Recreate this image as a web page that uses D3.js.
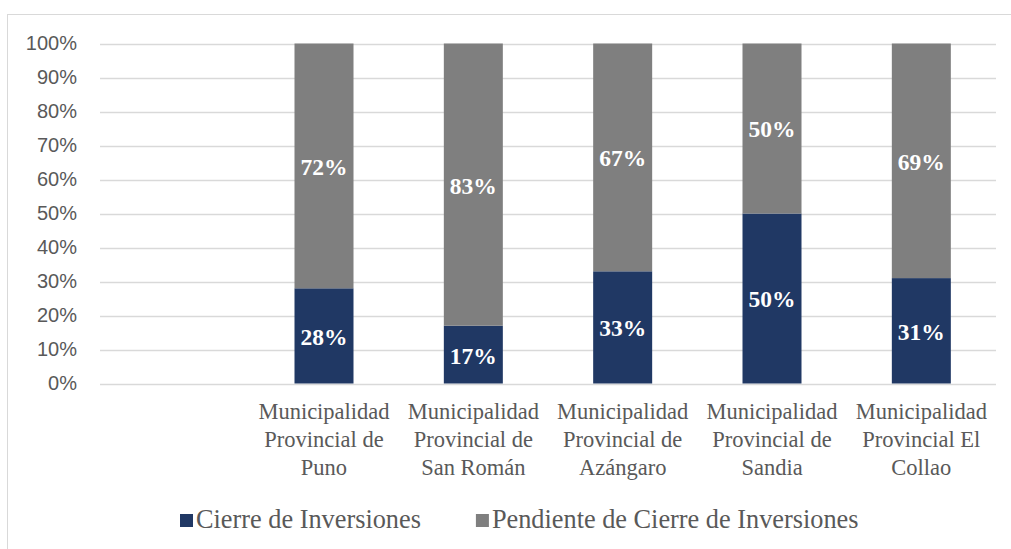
<!DOCTYPE html>
<html>
<head>
<meta charset="utf-8">
<script src="https://cdn.jsdelivr.net/npm/d3@7"></script>
<style>
  body { margin: 0; background: #fff; }
  svg { display: block; }
</style>
</head>
<body>
<script>
// chart values
var categories = ["", "Municipalidad Provincial de Puno", "Municipalidad Provincial de San Román",
  "Municipalidad Provincial de Azángaro", "Municipalidad Provincial de Sandia",
  "Municipalidad Provincial El Collao"];
var cierre = [null, 0.28, 0.17, 0.33, 0.50, 0.31];
var pendiente = [null, 0.72, 0.83, 0.67, 0.50, 0.69];
var seriesNames = ["Cierre de Inversiones", "Pendiente de Cierre de Inversiones"];
var yTicks = [0, 0.1, 0.2, 0.3, 0.4, 0.5, 0.6, 0.7, 0.8, 0.9, 1];

var width = 1011, height = 549;
var colors = ["#203864", "#7f7f7f"];
var serif = "'Liberation Serif', 'Times New Roman', serif";

var svg = d3.select("body").append("svg")
  .attr("width", width)
  .attr("height", height);

//chart frame
svg.append("rect")
  .attr("x", 7.5).attr("y", 14.5)
  .attr("width", 1020).attr("height", 560)
  .attr("fill", "#fff")
  .attr("stroke", "#d9d9d9");

var x = d3.scaleBand()
  .domain(d3.range(categories.length))
  .range([100, 996]);

var y = d3.scaleLinear()
  .domain([0, 1])
  .range([383.5, 43.5]);

//gridlines
svg.selectAll(".grid")
  .data(yTicks)
  .enter()
  .append("line")
  .attr("class", "grid")
  .attr("x1", 100).attr("x2", 996)
  .attr("y1", function(d){ return Math.round(y(d)) + 0.5; })
  .attr("y2", function(d){ return Math.round(y(d)) + 0.5; })
  .attr("stroke", "#d9d9d9")
  .attr("stroke-width", 1.3);

//y axis labels
var yAxis = d3.axisLeft(y)
  .tickValues(yTicks)
  .tickSize(0)
  .tickPadding(0)
  .tickFormat(d3.format(".0%"));

var yg = svg.append("g")
  .attr("transform", "translate(77,0)")
  .call(yAxis);
yg.select(".domain").remove();
yg.selectAll("text")
  .attr("fill", "#595959")
  .style("font-family", "'Liberation Sans', Arial, sans-serif")
  .style("font-size", "20px");

//stacked data
var rows = categories.map(function(c, i){
  return { i: i, cierre: cierre[i], pendiente: pendiente[i] };
}).filter(function(d){ return d.cierre !== null; });

var stack = d3.stack().keys(["cierre", "pendiente"]);
var layers = stack(rows);

var barW = 59;

var groups = svg.selectAll(".layer")
  .data(layers)
  .enter()
  .append("g")
  .attr("class", "layer")
  .attr("fill", function(d, i){ return colors[i]; });

groups.selectAll("rect")
  .data(function(d){ return d; })
  .enter()
  .append("rect")
  .attr("x", function(d){ return x(d.data.i) + x.bandwidth() / 2 - barW / 2; })
  .attr("width", barW)
  .attr("y", function(d){ return y(d[1]); })
  .attr("height", function(d){ return y(d[0]) - y(d[1]); });

//data labels
groups.selectAll("text")
  .data(function(d){ return d; })
  .enter()
  .append("text")
  .attr("x", function(d){ return x(d.data.i) + x.bandwidth() / 2; })
  .attr("y", function(d){ return (y(d[0]) + y(d[1])) / 2; })
  .attr("dy", "0.38em")
  .attr("text-anchor", "middle")
  .attr("fill", "#fff")
  .style("font-family", serif)
  .style("font-weight", "bold")
  .style("font-size", "23.5px")
  .text(function(d){ return Math.round((d[1] - d[0]) * 100) + "%"; });

//category labels, wrapped to band width
var catG = svg.selectAll(".cat")
  .data(categories)
  .enter()
  .append("text")
  .attr("class", "cat")
  .attr("text-anchor", "middle")
  .attr("fill", "#595959")
  .style("font-family", serif)
  .style("font-size", "22.5px")
  .attr("x", function(d, i){ return x(i) + x.bandwidth() / 2; })
  .attr("y", 419);

catG.each(function(d, i){
  var el = d3.select(this);
  var words = d.split(" ").filter(function(w){ return w.length; });
  var line = [], lineNo = 0;
  var cx = x(i) + x.bandwidth() / 2;
  var tspan = el.append("tspan").attr("x", cx).attr("y", 419);
  words.forEach(function(w){
    line.push(w);
    tspan.text(line.join(" "));
    if (tspan.node().getComputedTextLength() > x.bandwidth() - 4 && line.length > 1) {
      line.pop();
      tspan.text(line.join(" "));
      line = [w];
      lineNo++;
      tspan = el.append("tspan").attr("x", cx).attr("y", 419 + lineNo * 28).text(w);
    }
  });
});

//legend
var legend = svg.append("g").attr("class", "legend");
var lx = 180;
seriesNames.forEach(function(name, i){
  var item = legend.append("g").attr("transform", "translate(" + lx + ",0)");
  item.append("rect")
    .attr("x", 0).attr("y", 514)
    .attr("width", 13).attr("height", 13)
    .attr("fill", colors[i]);
  var t = item.append("text")
    .attr("x", 16).attr("y", 528)
    .attr("fill", "#595959")
    .style("font-family", serif)
    .style("font-size", "26.3px")
    .text(name);
  lx += 16 + t.node().getComputedTextLength() + 55;
});
</script>
</body>
</html>
